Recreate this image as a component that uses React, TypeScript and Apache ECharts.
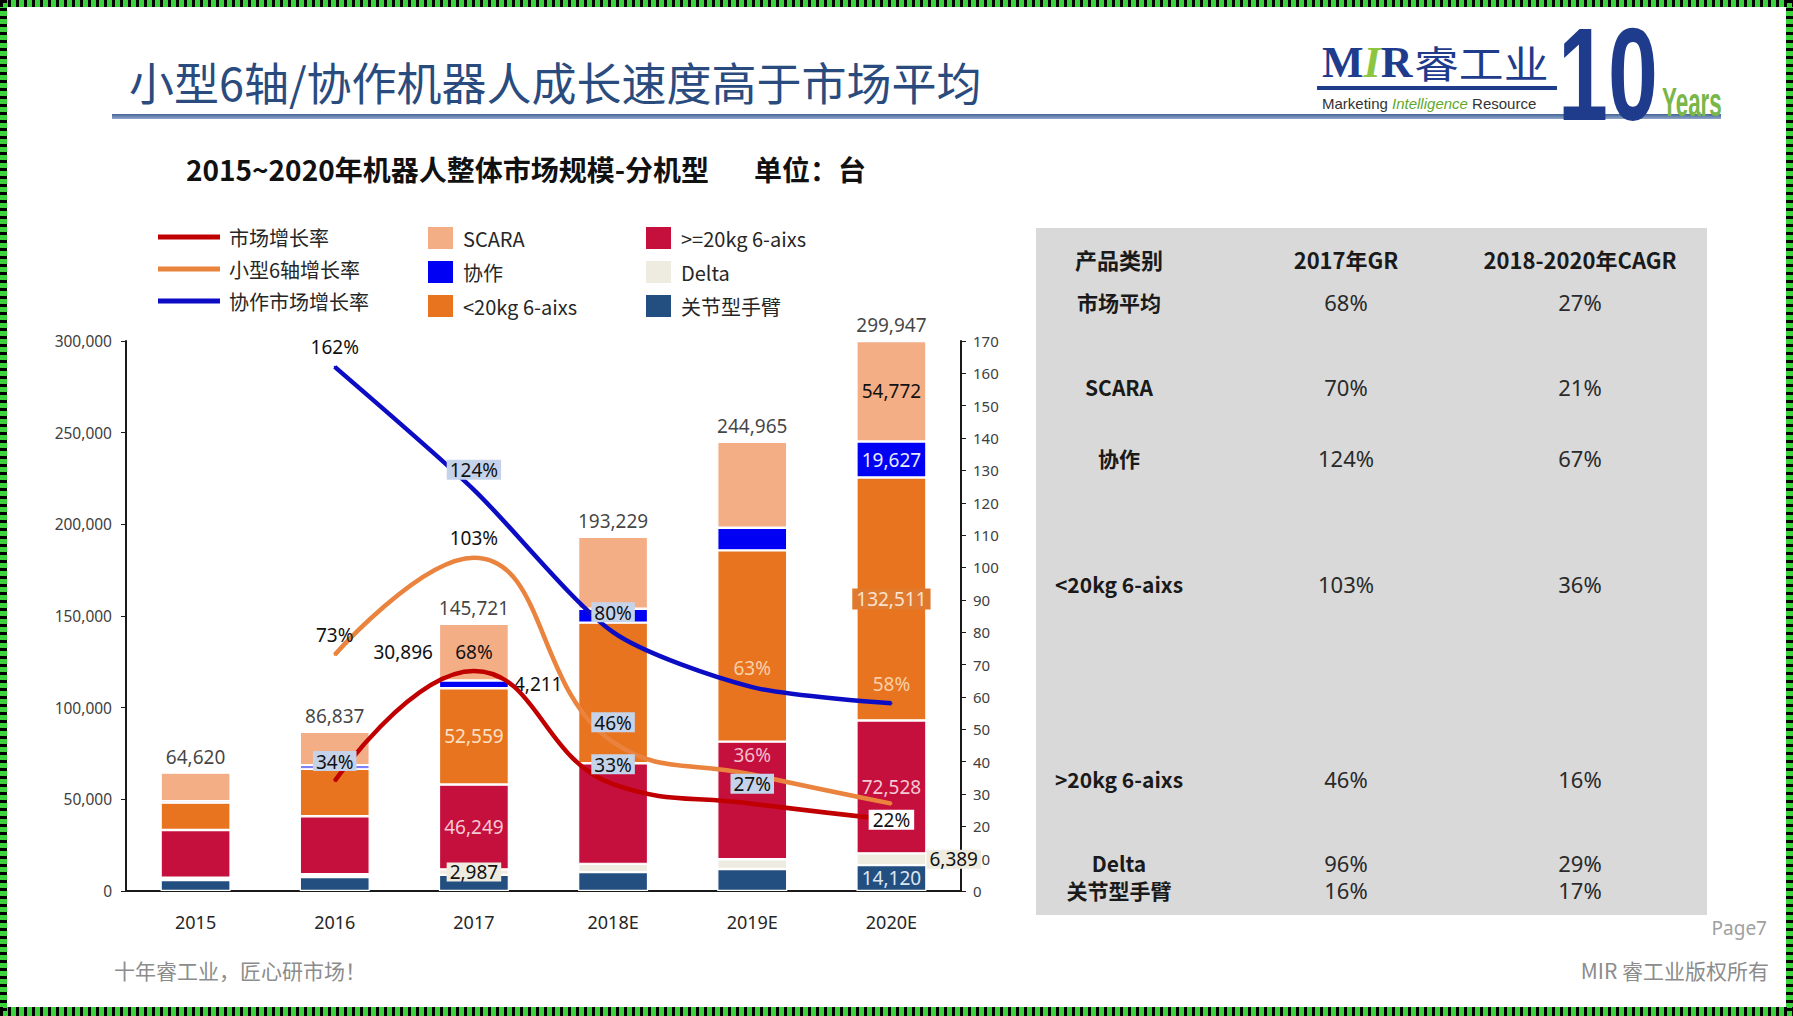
import React, { useEffect, useRef } from "react";
import * as echarts from "echarts";

// ---------- data ----------
const years = ["2015", "2016", "2017", "2018E", "2019E", "2020E"];
const totals = [64620, 86837, 145721, 193229, 244965, 299947];
const jointArm = [6000, 7600, 8819, 10300, 12000, 14120];
const delta = [1300, 1520, 2987, 4500, 5300, 6389];
const heavy6 = [25970, 31680, 46249, 54850, 64150, 72528];
const light6 = [14965, 25890, 52559, 76736, 104361, 132511];
const cobot = [718, 1880, 4211, 7580, 12355, 19627];
const scara = [15667, 18267, 30896, 39263, 46799, 54772];

const marketGrowth: (number | string)[] = ["-", 34, 68, 33, 27, 22];
const small6Growth: (number | string)[] = ["-", 73, 103, 46, 36, 27];
const cobotGrowth: (number | string)[] = ["-", 162, 124, 80, 63, 58];

const leftTicks = { min: 0, max: 300000, interval: 50000 };
const rightTicks = { min: 0, max: 170, interval: 10 };

const tableHeader = ["产品类别", "2017年GR", "2018-2020年CAGR"];
const tableCats = ["市场平均", "SCARA", "协作", "<20kg 6-aixs", ">20kg 6-aixs", "Delta", "关节型手臂"];
const gr2017 = ["68%", "70%", "124%", "103%", "46%", "96%", "16%"];
const cagr = ["27%", "21%", "67%", "36%", "16%", "29%", "17%"];

// ---------- layout / style ----------
const W = 1793;
const H = 1016;
const FF = "'Noto Sans','Noto Sans CJK SC',sans-serif";
const CJK = "'Noto Sans CJK SC','Noto Sans',sans-serif";
const tableRowY = [302, 387, 457.5, 584, 779, 863, 890];
const tableColX = [1119, 1346, 1580];

const C = {
  joint: "#234E80",
  delta: "#EEECE1",
  heavy: "#C50F3C",
  light: "#E8741F",
  cobot: "#0000F5",
  scara: "#F4AE86",
  lineRed: "#C00000",
  lineOrange: "#E9833D",
  lineBlue: "#0C0CC4",
};

const fmt = (n: number) => n.toLocaleString("en-US");

const box = { backgroundColor: "#C5D3EA", padding: [1, 3, 0, 3] };
const plain = {};
const onOrange = { color: "#FAD0A8" };
const onRed = { color: "#F2BFCD" };
const centeredWhite = { position: "inside", backgroundColor: "#FFFFFF", padding: [1, 4, 0, 4] };
const hidden = { show: false };

const marketLabelStyles: any[] = [null, box, plain, box, box, centeredWhite];
const small6LabelStyles: any[] = [null, plain, plain, box, onRed, hidden];
const cobotLabelStyles: any[] = [null, plain, box, box, onOrange, onOrange];

function lineData(values: (number | string)[], styles: any[]) {
  return values.map((v, i) => (v === "-" ? "-" : { value: v, label: styles[i] || {} }));
}

// per-bar labels: index -> label style
const barLabels: Record<string, Record<number, any>> = {
  joint: { 5: { position: "inside", color: "#DCE6F2" } },
  delta: {
    2: { position: "inside", color: "#111", backgroundColor: "#EEECE1", padding: [0, 3, 0, 3] },
    5: { position: "right", distance: 0, color: "#111", backgroundColor: "#EEECE1", padding: [0, 3, 0, 3] },
  },
  heavy: {
    2: { position: "inside", color: "#F6C9D4" },
    5: { position: "inside", color: "#F6C9D4" },
  },
  light: {
    2: { position: "inside", color: "#FCE0C6" },
    5: { position: "inside", color: "#FBE3CF", backgroundColor: "#E07A2E", padding: [2, 4, 0, 4] },
  },
  cobot: {
    2: { position: "right", distance: 3, color: "#111", backgroundColor: "#FFFFFF", padding: [0, 2, 0, 2] },
    5: { position: "inside", color: "#E8ECFF" },
  },
  scara: {
    2: { position: "left", distance: 6, color: "#111" },
    5: { position: "inside", color: "#111" },
  },
};

function barData(values: number[], key: string) {
  const m = barLabels[key] || {};
  return values.map((v, i) =>
    m[i] ? { value: v, label: { show: true, formatter: fmt(v), ...m[i] } } : v
  );
}

function barSeries(name: string, values: number[], key: string, color: string) {
  return {
    name,
    type: "bar",
    stack: "total",
    barWidth: 70,
    itemStyle: { color, borderColor: "#FFFFFF", borderWidth: 1.2 },
    label: { show: false, fontSize: 19, fontFamily: FF },
    data: barData(values, key),
  };
}

function lineSeries(name: string, values: (number | string)[], styles: any[], color: string, smooth: number) {
  return {
    name,
    type: "line",
    yAxisIndex: 1,
    smooth,
    symbol: "circle",
    symbolSize: 2,
    showSymbol: true,
    itemStyle: { color },
    lineStyle: { color, width: 4.5 },
    label: {
      show: true,
      position: "top",
      distance: 9,
      fontSize: 19,
      fontFamily: FF,
      color: "#111",
      formatter: "{c}%",
    },
    data: lineData(values, styles),
    z: 3,
  };
}

function borderLines() {
  const g = "#3BD23B";
  const segs = [
    { x1: 0, y1: 3.5, x2: W, y2: 3.5, w: 7 },
    { x1: 3.5, y1: 0, x2: 3.5, y2: H, w: 7 },
    { x1: W - 3.5, y1: 0, x2: W - 3.5, y2: H, w: 7 },
    { x1: 0, y1: H - 4.5, x2: W, y2: H - 4.5, w: 9 },
  ];
  const out: any[] = [];
  segs.forEach((s) => {
    out.push({ type: "line", shape: { x1: s.x1, y1: s.y1, x2: s.x2, y2: s.y2 }, style: { stroke: g, lineWidth: s.w }, z: 100 });
    out.push({
      type: "line",
      shape: { x1: s.x1, y1: s.y1, x2: s.x2, y2: s.y2 },
      style: { stroke: "#000", lineWidth: s.w, lineDash: [3, 5] },
      z: 101,
    });
  });
  return out;
}

function tableGraphics() {
  const out: any[] = [];
  out.push({ type: "rect", shape: { x: 1036, y: 228, width: 671, height: 687 }, style: { fill: "#D9D9D9" }, z: -10 });
  tableHeader.forEach((t, i) => {
    out.push({
      type: "text",
      x: tableColX[i],
      y: 259,
      style: { text: t, fontSize: 22, fontWeight: "bold", fontFamily: CJK, fill: "#1A1A1A", align: "center", verticalAlign: "middle" },
    });
  });
  tableCats.forEach((t, r) => {
    const y = tableRowY[r];
    out.push({
      type: "text",
      x: tableColX[0],
      y,
      style: { text: t, fontSize: 21, fontWeight: "bold", fontFamily: CJK, fill: "#1A1A1A", align: "center", verticalAlign: "middle" },
    });
    out.push({
      type: "text",
      x: tableColX[1],
      y,
      style: { text: gr2017[r], fontSize: 22, fontFamily: FF, fill: "#2A2A2A", align: "center", verticalAlign: "middle" },
    });
    out.push({
      type: "text",
      x: tableColX[2],
      y,
      style: { text: cagr[r], fontSize: 22, fontFamily: FF, fill: "#2A2A2A", align: "center", verticalAlign: "middle" },
    });
  });
  return out;
}

function headerGraphics() {
  const blue = "#1F3B8C";
  return [
    {
      type: "text",
      x: 129,
      y: 81,
      style: { text: "小型6轴/协作机器人成长速度高于市场平均", fontSize: 45, fontFamily: CJK, fill: "#2A4B7E", verticalAlign: "middle" },
    },
    {
      type: "rect",
      shape: { x: 112, y: 114, width: 1609, height: 5 },
      style: {
        fill: new echarts.graphic.LinearGradient(0, 0, 0, 1, [
          { offset: 0, color: "#46669A" },
          { offset: 1, color: "#8FA6C9" },
        ]),
      },
    },
    {
      type: "text",
      x: 186,
      y: 169,
      style: { text: "2015~2020年机器人整体市场规模-分机型", fontSize: 28, fontWeight: "bold", fontFamily: CJK, fill: "#111", verticalAlign: "middle" },
    },
    {
      type: "text",
      x: 754,
      y: 169,
      style: { text: "单位：台", fontSize: 28, fontWeight: "bold", fontFamily: CJK, fill: "#111", verticalAlign: "middle" },
    },
    // logo
    {
      type: "text",
      x: 1322,
      y: 62,
      style: {
        text: "{m|M}{i|I}{m|R}",
        verticalAlign: "middle",
        rich: {
          m: { fontFamily: "'Liberation Serif',serif", fontWeight: "bold", fontSize: 44, fill: blue },
          i: { fontFamily: "'Liberation Serif',serif", fontWeight: "bold", fontStyle: "italic", fontSize: 44, fill: "#8CC63F" },
        },
      },
    },
    {
      type: "text",
      x: 1414,
      y: 62,
      scaleX: 1.18,
      style: { text: "睿工业", fontSize: 38, fontFamily: CJK, fill: blue, verticalAlign: "middle" },
    },
    { type: "rect", shape: { x: 1317, y: 86, width: 240, height: 4 }, style: { fill: blue } },
    {
      type: "text",
      x: 1322,
      y: 103,
      style: {
        text: "{n|Marketing }{i|Intelligence}{n| Resource}",
        verticalAlign: "middle",
        rich: {
          n: { fontFamily: "'Liberation Sans',sans-serif", fontSize: 15, fill: "#333" },
          i: { fontFamily: "'Liberation Sans',sans-serif", fontStyle: "italic", fontSize: 15, fill: "#5FA82C" },
        },
      },
    },
    {
      type: "text",
      x: 1558,
      y: 74,
      scaleX: 0.68,
      style: { text: "10", fontSize: 132, fontWeight: "bold", fontFamily: "'Liberation Sans',sans-serif", fill: blue, verticalAlign: "middle" },
    },
    {
      type: "text",
      x: 1662,
      y: 102,
      scaleX: 0.56,
      style: { text: "Years", fontSize: 40, fontWeight: "bold", fontFamily: "'Liberation Sans',sans-serif", fill: "#7AB648", verticalAlign: "middle" },
    },
    // footer
    {
      type: "text",
      x: 114,
      y: 970,
      style: { text: "十年睿工业，匠心研市场！", fontSize: 21, fontFamily: CJK, fill: "#8C8C8C", verticalAlign: "middle" },
    },
    {
      type: "text",
      x: 1769,
      y: 970,
      style: { text: "MIR 睿工业版权所有", fontSize: 21, fontFamily: CJK, fill: "#8C8C8C", align: "right", verticalAlign: "middle" },
    },
    {
      type: "text",
      x: 1767,
      y: 928,
      style: { text: "Page7", fontSize: 19, fontFamily: FF, fill: "#A0A0A0", align: "right", verticalAlign: "middle" },
    },
  ];
}

const legendText = { fontSize: 20, lineHeight: 24, color: "#262626", fontFamily: CJK, padding: [0, 0, 0, 4] };

const option: any = {
  animation: false,
  backgroundColor: "#FFFFFF",
  textStyle: { fontFamily: FF },
  grid: { left: 126, top: 341, width: 835, height: 550, containLabel: false },
  legend: [
    {
      data: ["市场增长率", "小型6轴增长率", "协作市场增长率"],
      left: 153,
      top: 220,
      orient: "vertical",
      icon: "rect",
      itemWidth: 62,
      itemHeight: 5,
      itemGap: 8,
      textStyle: legendText,
    },
    {
      data: ["SCARA", "协作", "<20kg 6-aixs"],
      left: 421,
      top: 220,
      orient: "vertical",
      icon: "rect",
      itemWidth: 27,
      itemHeight: 24,
      itemGap: 8,
      textStyle: legendText,
    },
    {
      data: [">=20kg 6-aixs", "Delta", "关节型手臂"],
      left: 639,
      top: 220,
      orient: "vertical",
      icon: "rect",
      itemWidth: 27,
      itemHeight: 24,
      itemGap: 8,
      textStyle: legendText,
    },
  ],
  xAxis: {
    type: "category",
    data: years,
    axisLine: { show: true, lineStyle: { color: "#1A1A1A", width: 2 } },
    axisTick: { show: false },
    axisLabel: { fontSize: 18, color: "#262626", margin: 22, fontFamily: FF },
  },
  yAxis: [
    {
      type: "value",
      ...leftTicks,
      axisLine: { show: true, lineStyle: { color: "#1A1A1A", width: 2 } },
      axisTick: { show: true, length: 5, lineStyle: { color: "#1A1A1A" } },
      splitLine: { show: false },
      axisLabel: { fontSize: 15.5, color: "#404040", margin: 14, formatter: (v: number) => fmt(v) },
    },
    {
      type: "value",
      position: "right",
      ...rightTicks,
      axisLine: { show: true, lineStyle: { color: "#1A1A1A", width: 2 } },
      axisTick: { show: true, length: 5, lineStyle: { color: "#1A1A1A" } },
      splitLine: { show: false },
      axisLabel: { fontSize: 15, color: "#404040", margin: 12 },
    },
  ],
  series: [
    barSeries("关节型手臂", jointArm, "joint", C.joint),
    barSeries("Delta", delta, "delta", C.delta),
    barSeries(">=20kg 6-aixs", heavy6, "heavy", C.heavy),
    barSeries("<20kg 6-aixs", light6, "light", C.light),
    barSeries("协作", cobot, "cobot", C.cobot),
    barSeries("SCARA", scara, "scara", C.scara),
    lineSeries("市场增长率", marketGrowth, marketLabelStyles, C.lineRed, 0.45),
    lineSeries("小型6轴增长率", small6Growth, small6LabelStyles, C.lineOrange, 0.45),
    lineSeries("协作市场增长率", cobotGrowth, cobotLabelStyles, C.lineBlue, 0.25),
    {
      name: "total",
      type: "scatter",
      symbolSize: 1,
      itemStyle: { color: "rgba(0,0,0,0)" },
      label: {
        show: true,
        position: "top",
        distance: 6,
        fontSize: 19,
        fontFamily: FF,
        color: "#111",
        formatter: (p: any) => fmt(p.value),
      },
      data: totals,
      z: 4,
    },
  ],
  graphic: [...headerGraphics(), ...tableGraphics(), ...borderLines()],
};

export default function App() {
  const ref = useRef<HTMLDivElement>(null);
  useEffect(() => {
    const chart = echarts.init(ref.current!, null, { renderer: "svg" });
    chart.setOption(option);
    return () => chart.dispose();
  }, []);
  return (
    <div
      ref={ref}
      style={{ position: "absolute", left: 0, top: 0, width: W, height: H, background: "#FFFFFF" }}
    />
  );
}
